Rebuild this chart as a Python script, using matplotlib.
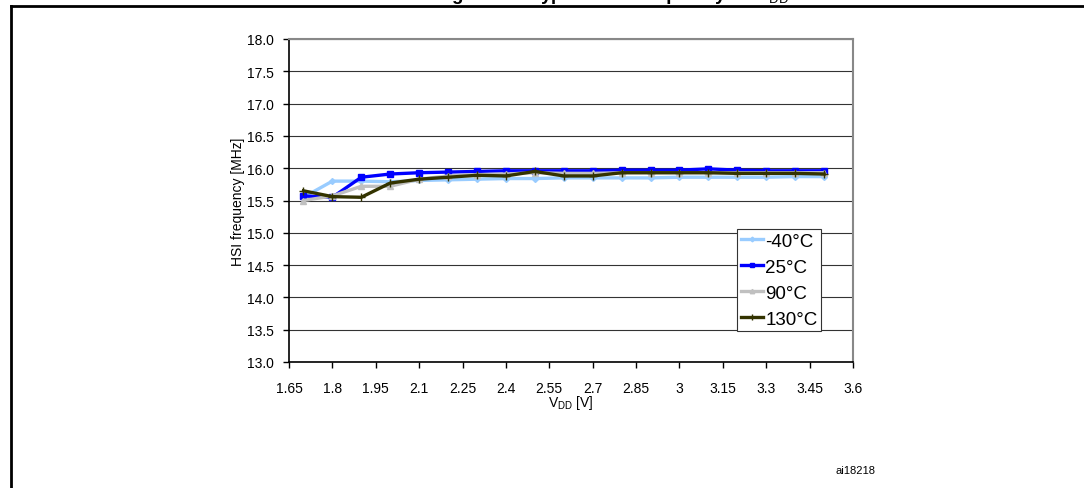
import matplotlib
matplotlib.use("Agg")
import matplotlib.pyplot as plt
from matplotlib.lines import Line2D

plt.rcParams["font.family"] = ["Liberation Sans", "DejaVu Sans"]
plt.rcParams["mathtext.fontset"] = "custom"
plt.rcParams["mathtext.rm"] = "Liberation Sans"

# supply voltage (V) and HSI frequency (MHz) per temperature
vdd = [1.7, 1.8, 1.9, 2.0, 2.1, 2.2, 2.3, 2.4, 2.5, 2.6,
       2.7, 2.8, 2.9, 3.0, 3.1, 3.2, 3.3, 3.4, 3.5]
f_m40 = [15.55, 15.80, 15.80, 15.79, 15.81, 15.82, 15.83, 15.84, 15.84, 15.85,
         15.85, 15.85, 15.85, 15.86, 15.86, 15.86, 15.86, 15.87, 15.87]
f_25 = [15.57, 15.55, 15.86, 15.91, 15.93, 15.94, 15.95, 15.96, 15.96, 15.96,
        15.96, 15.97, 15.97, 15.97, 15.99, 15.97, 15.96, 15.96, 15.96]
f_90 = [15.50, 15.57, 15.72, 15.72, 15.83, 15.88, 15.90, 15.91, 15.93, 15.92,
        15.92, 15.93, 15.93, 15.93, 15.93, 15.93, 15.93, 15.93, 15.93]
f_130 = [15.65, 15.56, 15.55, 15.77, 15.83, 15.86, 15.89, 15.88, 15.95, 15.88,
         15.88, 15.93, 15.93, 15.93, 15.93, 15.92, 15.92, 15.92, 15.91]
labels = ["-40°C", "25°C", "90°C", "130°C"]
x_ticks = [1.65, 1.8, 1.95, 2.1, 2.25, 2.4, 2.55, 2.7, 2.85, 3.0, 3.15, 3.3, 3.45, 3.6]
y_ticks = [13.0, 13.5, 14.0, 14.5, 15.0, 15.5, 16.0, 16.5, 17.0, 17.5, 18.0]

fig = plt.figure(figsize=(10.84, 4.89), dpi=100)
ax = fig.add_axes([289 / 1084, 1 - 363 / 489, 564 / 1084, 323 / 489])

styles = [("#99CCFF", "D", 3), ("#0000FF", "s", 4), ("#C0C0C0", "^", 4), ("#333300", "+", 6)]
for ys, lab, (c, m, ms) in zip([f_m40, f_25, f_90, f_130], labels, styles):
    ax.plot(vdd, ys, color=c, lw=2.4, marker=m, ms=ms, mew=1.0, label=lab)

ax.set_xlim(1.65, 3.6)
ax.set_ylim(13.0, 18.0)
ax.set_xticks(x_ticks)
ax.set_xticklabels(["%g" % v for v in x_ticks])
ax.set_yticks(y_ticks)
ax.set_yticklabels(["%.1f" % v for v in y_ticks])
ax.tick_params(direction="out", length=4, width=1, labelsize=10, colors="black")
ax.tick_params(axis="x", pad=10)
ax.tick_params(axis="y", pad=7)
ax.yaxis.grid(True, color="#333333", lw=0.8)
ax.set_axisbelow(True)
for side in ("left", "bottom"):
    ax.spines[side].set_color("black")
    ax.spines[side].set_linewidth(1.2)
for side in ("top", "right"):
    ax.spines[side].set_color("#888888")
    ax.spines[side].set_linewidth(1.5)

ax.set_ylabel("HSI frequency [MHz]", fontsize=10)
ax.yaxis.set_label_coords(-0.078, 0.5)
ax.set_xlabel("V$_{\\mathrm{DD}}$ [V]", fontsize=10)
ax.xaxis.set_label_coords(0.5, -0.097)

leg = ax.legend(loc="upper left", bbox_to_anchor=(0.794, 0.412), fontsize=13.5,
                handlelength=1.17, handletextpad=0.15, labelspacing=0.47,
                borderpad=0.2, borderaxespad=0, fancybox=False, framealpha=1,
                edgecolor="#333333", markerscale=0.8)
leg.get_frame().set_linewidth(0.8)

# outer document frame and the clipped figure caption
fig.add_artist(Line2D([11 / 1084, 11 / 1084], [0, 1 - 6.5 / 489],
                      transform=fig.transFigure, color="black", lw=2))
fig.add_artist(Line2D([11 / 1084, 1.0], [1 - 6.5 / 489, 1 - 6.5 / 489],
                      transform=fig.transFigure, color="black", lw=2))
fig.text(0.565, 1.0, "Figure 22. Typical HSI frequency vs V$_{\\mathrm{DD}}$",
         ha="center", va="baseline", fontsize=13.5, fontweight="bold")
fig.text(856 / 1084, 1 - 471 / 489, "ai18218", ha="center", va="center", fontsize=8)

fig.savefig("out.png", dpi=100)
